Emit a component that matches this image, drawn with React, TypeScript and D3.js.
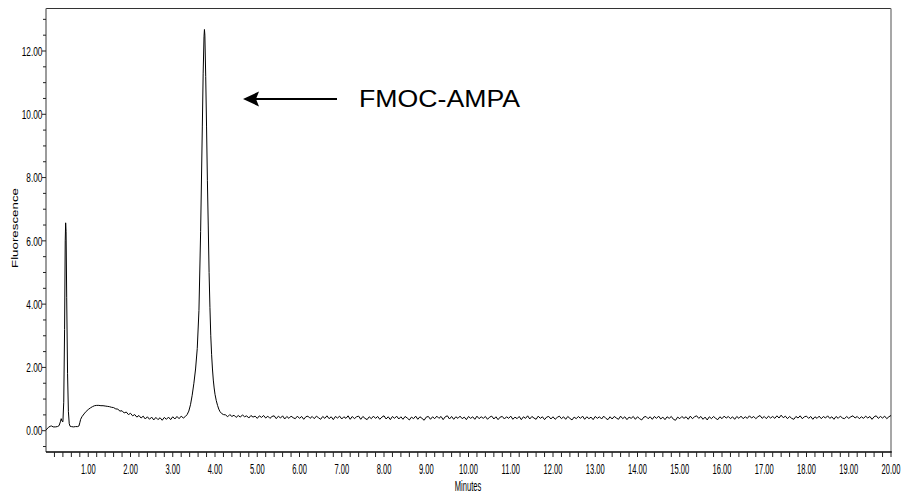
import React from "react";
import * as d3 from "d3";

// ---- Data ----
const shapeTimes = [
  0.0, 0.03, 0.06, 0.1, 0.13, 0.17, 0.22, 0.27, 0.31, 0.34, 0.36, 0.38, 0.4,
  0.42, 0.44, 0.455, 0.465, 0.475, 0.49, 0.51, 0.53, 0.55, 0.57, 0.6, 0.65,
  0.7, 0.75, 0.78, 0.8, 0.82, 0.85, 0.9, 0.95, 1.0, 1.05, 1.1, 1.15, 1.2,
  1.25, 1.3, 1.35, 1.4, 1.45, 1.5, 1.55, 1.6, 1.65, 1.7, 1.75, 1.8, 1.85,
  1.9, 1.95, 2.0, 2.05, 2.1, 2.15, 2.2, 2.25, 2.3, 2.35, 2.4, 2.45, 2.5,
  2.55, 2.6, 2.65, 2.7, 2.75, 2.8, 2.85, 2.9, 2.95, 3.0, 3.05, 3.1, 3.15,
  3.2, 3.25, 3.3, 3.34, 3.38, 3.42, 3.46, 3.5, 3.54, 3.58, 3.62, 3.66, 3.7,
  3.72, 3.74, 3.75, 3.76, 3.78, 3.8, 3.82, 3.84, 3.86, 3.88, 3.9, 3.92,
  3.94, 3.96, 3.98, 4.0, 4.03, 4.06, 4.09, 4.12, 4.16, 4.2,
];
const shapeValues = [
  0.03, 0.06, 0.11, 0.14, 0.15, 0.12, 0.12, 0.13, 0.16, 0.28, 0.38, 0.3, 0.28,
  0.9, 3.2, 6.0, 6.57, 6.3, 4.2, 1.8, 0.6, 0.22, 0.14, 0.13, 0.12,
  0.13, 0.13, 0.15, 0.25, 0.36, 0.44, 0.53, 0.61, 0.67, 0.72, 0.76, 0.79, 0.8,
  0.8, 0.79, 0.79, 0.78, 0.77, 0.76, 0.74, 0.73, 0.69, 0.68, 0.62, 0.63, 0.56,
  0.59, 0.51, 0.55, 0.47, 0.51, 0.43, 0.48, 0.40, 0.46, 0.37, 0.44, 0.36, 0.43,
  0.34, 0.42, 0.35, 0.41, 0.33, 0.42, 0.36, 0.43, 0.35, 0.44, 0.37, 0.45, 0.38,
  0.46, 0.40, 0.45, 0.51, 0.62, 0.82, 1.12, 1.5, 1.95, 2.6, 3.8, 6.3, 9.6,
  11.3, 12.45, 12.68, 12.5, 11.2, 9.6, 7.9, 6.5, 5.0, 3.9, 3.0, 2.4,
  1.95, 1.6, 1.35, 1.15, 0.95, 0.8, 0.68, 0.6, 0.54, 0.51,
];
// Baseline after the main peak, sampled every 0.05 min from 4.25 to 20.00
const baselineStart = 4.25;
const baselineStep = 0.05;
const baselineValues = [
  0.50,0.44,0.51,0.45,0.49,0.42,0.48,0.43,0.50,0.44,0.47,0.40,0.48,0.43,0.46,0.39,0.47,0.42,0.48,0.40,
  0.46,0.39,0.45,0.47,0.38,0.46,0.40,0.47,0.37,0.45,0.39,0.46,0.41,0.38,0.46,0.39,0.45,0.36,0.44,0.46,
  0.39,0.45,0.38,0.46,0.41,0.36,0.45,0.39,0.47,0.38,0.44,0.35,0.45,0.40,0.46,0.37,0.44,0.39,0.47,0.36,
  0.45,0.38,0.44,0.46,0.36,0.45,0.39,0.35,0.44,0.38,0.46,0.39,0.45,0.36,0.43,0.47,0.37,0.44,0.35,0.45,
  0.39,0.46,0.37,0.44,0.36,0.45,0.40,0.34,0.43,0.38,0.46,0.36,0.44,0.39,0.33,0.43,0.45,0.36,0.44,0.38,
  0.46,0.39,0.45,0.35,0.44,0.47,0.37,0.45,0.36,0.44,0.39,0.46,0.38,0.43,0.35,0.45,0.39,0.44,0.36,0.46,
  0.38,0.44,0.39,0.45,0.36,0.43,0.46,0.37,0.44,0.35,0.43,0.45,0.37,0.44,0.39,0.46,0.36,0.43,0.38,0.45,
  0.35,0.44,0.39,0.47,0.37,0.45,0.40,0.36,0.46,0.39,0.44,0.35,0.43,0.45,0.37,0.44,0.36,0.42,0.46,0.38,
  0.44,0.36,0.45,0.39,0.34,0.43,0.38,0.45,0.39,0.46,0.36,0.44,0.38,0.43,0.35,0.45,0.39,0.44,0.37,0.46,
  0.39,0.35,0.44,0.37,0.45,0.40,0.36,0.46,0.38,0.44,0.35,0.43,0.39,0.45,0.36,0.44,0.38,0.34,0.43,0.45,
  0.38,0.44,0.36,0.45,0.39,0.46,0.37,0.43,0.35,0.44,0.39,0.45,0.36,0.33,0.43,0.38,0.45,0.39,0.44,0.36,
  0.46,0.38,0.44,0.47,0.39,0.45,0.36,0.43,0.34,0.44,0.38,0.45,0.39,0.35,0.44,0.38,0.46,0.40,0.45,0.38,
  0.44,0.36,0.45,0.39,0.46,0.38,0.44,0.39,0.47,0.40,0.45,0.38,0.44,0.48,0.39,0.45,0.38,0.46,0.40,0.45,
  0.39,0.47,0.40,0.49,0.41,0.46,0.38,0.45,0.39,0.36,0.45,0.40,0.47,0.38,0.44,0.46,0.39,0.45,0.36,0.44,
  0.39,0.46,0.38,0.45,0.40,0.47,0.39,0.44,0.36,0.45,0.39,0.46,0.40,0.38,0.45,0.39,0.44,0.47,0.40,0.45,
  0.38,0.44,0.39,0.46,0.40,0.45,0.36,0.44,0.47,0.39,0.45,0.40,0.46,0.38,0.44,0.48,
];

const xTickLabels = [1, 2, 3, 4, 5, 6, 7, 8, 9, 10, 11, 12, 13, 14, 15, 16, 17, 18, 19, 20];
const yTickLabels = [0, 2, 4, 6, 8, 10, 12];
const peakLabel = "FMOC-AMPA";
const xTitle = "Minutes";
const yTitle = "Fluorescence";

// ---- Layout ----
const W = 901;
const H = 495;
const left = 46;
const right = 891;
const top = 8.5;
const bottom = 452;

export default function App() {
  const x = d3.scaleLinear().domain([0, 20]).range([left, right]);
  const y = d3.scaleLinear().domain([0, 12]).range([430.7, 51]);

  const points: [number, number][] = shapeTimes.map((t, i) => [t, shapeValues[i]]);
  baselineValues.forEach((v, i) => points.push([baselineStart + i * baselineStep, v]));

  const line = d3
    .line<[number, number]>()
    .x((d) => x(d[0]))
    .y((d) => y(d[1]));

  const xMinor = d3.range(1, 101).map((i) => i * 0.2);
  const yMinor = d3.range(-1, 27).map((i) => i * 0.5);

  const font = "'Liberation Sans', Arial, sans-serif";

  return (
    <svg
      width={W}
      height={H}
      viewBox={`0 0 ${W} ${H}`}
      style={{ position: "absolute", left: 0, top: 0, background: "#fff" }}
    >
      <rect x={0} y={0} width={W} height={H} fill="#fff" />
      {/* frame */}
      <line x1={left} x2={right} y1={top} y2={top} stroke="#333" strokeWidth={1} />
      <line x1={right} x2={right} y1={top} y2={bottom} stroke="#8a8a8a" strokeWidth={1.5} />
      <line x1={left} x2={left} y1={top} y2={bottom} stroke="#7a7a7a" strokeWidth={1.5} />
      <line x1={left} x2={right + 0.75} y1={bottom} y2={bottom} stroke="#000" strokeWidth={1.6} />

      {/* y ticks */}
      {yMinor.map((v) => {
        const major = Math.abs(v - Math.round(v / 2) * 2) < 1e-6;
        return (
          <line
            key={"ym" + v}
            x1={major ? left - 4 : left - 3}
            x2={left}
            y1={y(v)}
            y2={y(v)}
            stroke="#222"
            strokeWidth={1}
          />
        );
      })}
      {yTickLabels.map((v) => (
        <text
          key={"yl" + v}
          transform={`translate(${left - 3.5},${y(v) + 4.7}) scale(0.64,1)`}
          textAnchor="end"
          fontFamily={font}
          fontSize={13}
          fill="#000"
        >
          {v.toFixed(2)}
        </text>
      ))}

      {/* x ticks */}
      {xMinor.map((t) => (
        <line
          key={"xm" + t.toFixed(1)}
          x1={x(t)}
          x2={x(t)}
          y1={bottom}
          y2={bottom + 5}
          stroke="#222"
          strokeWidth={1}
        />
      ))}
      {xTickLabels.map((t) => (
        <text
          key={"xl" + t}
          transform={`translate(${x(t)},474) scale(0.54,1)`}
          textAnchor="middle"
          fontFamily={font}
          fontSize={14}
          fill="#000"
        >
          {t.toFixed(2)}
        </text>
      ))}

      {/* axis titles */}
      <text
        transform={`translate(468,491) scale(0.54,1)`}
        textAnchor="middle"
        fontFamily={font}
        fontSize={14}
        fill="#000"
      >
        {xTitle}
      </text>
      <text
        transform={`translate(17.5,228) rotate(-90)`}
        textAnchor="middle"
        fontFamily={font}
        fontSize={8.5}
        textLength={80}
        lengthAdjust="spacingAndGlyphs"
        fill="#000"
      >
        {yTitle}
      </text>

      {/* chromatogram trace */}
      <path d={line(points) || ""} fill="none" stroke="#000" strokeWidth={1} strokeLinejoin="round" />

      {/* annotation */}
      <line x1={256} x2={337} y1={99} y2={99} stroke="#000" strokeWidth={2} />
      <polygon points="243,99 259,91.5 256,99 259,106.5" fill="#000" />
      <text
        x={359}
        y={106.7}
        fontFamily={font}
        fontSize={23.5}
        textLength={161}
        lengthAdjust="spacingAndGlyphs"
        fill="#000"
      >
        {peakLabel}
      </text>
    </svg>
  );
}
